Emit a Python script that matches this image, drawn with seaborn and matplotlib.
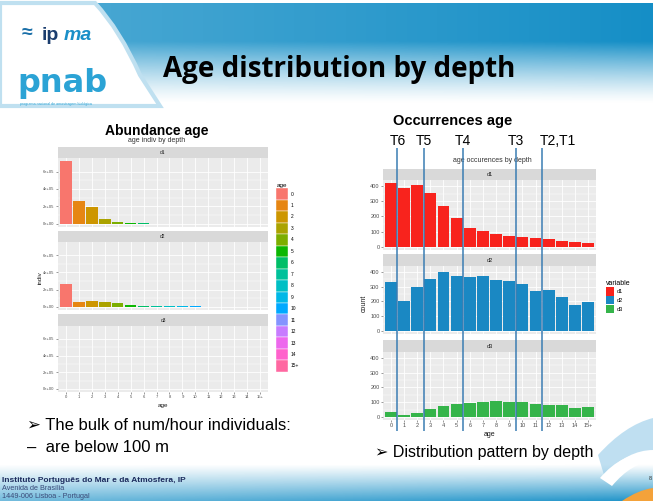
import numpy as np
import pandas as pd
import matplotlib
matplotlib.use("Agg")
import matplotlib.pyplot as plt
import seaborn as sns
from matplotlib.patches import Patch, PathPatch
from matplotlib.path import Path

# ---- data ----
ages = ["0", "1", "2", "3", "4", "5", "6", "7", "8", "9", "10", "11", "12", "13", "14", "15+"]
depths = ["d1", "d2", "d3"]

# abundance (num/hour individuals) per age and depth stratum
indiv_d1 = [7.2e5, 2.6e5, 1.95e5, 0.55e5, 0.2e5, 0.08e5, 0.07e5, 0.02e5, 0.02e5, 0.02e5, 0.02e5, 0.01e5, 0.01e5, 0.01e5, 0.01e5, 0.01e5]
indiv_d2 = [2.7e5, 0.6e5, 0.63e5, 0.57e5, 0.38e5, 0.2e5, 0.1e5, 0.1e5, 0.03e5, 0.03e5, 0.03e5, 0.02e5, 0.02e5, 0.02e5, 0.02e5, 0.02e5]
indiv_d3 = [0.01e5, 0.01e5, 0.01e5, 0.03e5, 0.03e5, 0.02e5, 0.02e5, 0.02e5, 0.02e5, 0.02e5, 0.02e5, 0.01e5, 0.01e5, 0.01e5, 0.01e5, 0.01e5]

# occurrences per age and depth stratum
count_d1 = [418, 387, 409, 353, 269, 187, 122, 107, 84, 73, 67, 58, 51, 40, 33, 27]
count_d2 = [333, 205, 297, 351, 400, 369, 366, 373, 344, 335, 315, 272, 274, 231, 173, 193]
count_d3 = [36, 14, 29, 54, 74, 86, 95, 102, 108, 102, 102, 88, 81, 79, 61, 68]

# threshold lines drawn across the occurrence chart (between age classes)
t_labels = ["T6", "T5", "T4", "T3", "T2,T1"]
t_pos = [0.5, 2.5, 5.5, 9.5, 11.5]

depth_colors = {"d1": "#F8231D", "d2": "#1A88C3", "d3": "#35B44A"}

abund = pd.DataFrame({"age": ages * 3, "depth": np.repeat(depths, 16),
                      "indiv": indiv_d1 + indiv_d2 + indiv_d3})
occ = pd.DataFrame({"age": ages * 3, "depth": np.repeat(depths, 16),
                    "count": count_d1 + count_d2 + count_d3})


def hcl(h, c=100, l=65):
    # ggplot2 default hue palette (polar Luv -> sRGB)
    h = np.deg2rad(h)
    u, v = c * np.cos(h), c * np.sin(h)
    Xn, Yn, Zn = 0.95047, 1.0, 1.08883
    un = 4 * Xn / (Xn + 15 * Yn + 3 * Zn)
    vn = 9 * Yn / (Xn + 15 * Yn + 3 * Zn)
    Y = Yn * ((l + 16) / 116) ** 3
    up, vp = u / (13 * l) + un, v / (13 * l) + vn
    X = 9 * Y * up / (4 * vp)
    Z = -X / 3 - 5 * Y + 3 * Y / vp
    rgb = np.array([[3.2406, -1.5372, -0.4986], [-0.9689, 1.8758, 0.0415],
                    [0.0557, -0.2040, 1.0570]]) @ np.array([X, Y, Z])
    rgb = np.where(rgb > 0.0031308, 1.055 * np.abs(rgb) ** (1 / 2.4) - 0.055, 12.92 * rgb)
    return tuple(np.clip(rgb, 0, 1))


age_pal = [hcl(h) for h in np.linspace(15, 375, 17)[:-1]]

plt.rcParams["font.family"] = ["Liberation Sans", "DejaVu Sans"]

W, H = 653, 501
fig = plt.figure(figsize=(W / 100, H / 100), dpi=100)


def box(x0, y0, x1, y1):
    return [x0 / W, 1 - y1 / H, (x1 - x0) / W, (y1 - y0) / H]


# ---- slide background ----
bg = fig.add_axes([0, 0, 1, 1], zorder=-10)
bg.set_xlim(0, W)
bg.set_ylim(H, 0)
bg.axis("off")

blue = np.array([0.08, 0.56, 0.78])
yy = np.linspace(0, 1, 100)[:, None]
xx = np.linspace(0, 1, 200)[None, :]
alpha = np.clip((1 - yy) / 0.62, 0, 1) ** 1.3 * (0.75 + 0.25 * xx)
head = np.zeros((100, 200, 4))
head[..., :3] = blue
head[..., 3] = alpha
bg.imshow(head, extent=[0, W, 104, 3], aspect="auto", zorder=0)

foot = np.zeros((60, 200, 4))
fy = np.linspace(0, 1, 60)[:, None]
foot[..., :3] = blue
foot[..., 3] = np.clip(fy, 0, 1) ** 1.1 * (0.6 + 0.35 * xx)
bg.imshow(foot, extent=[0, W, H, 464], aspect="auto", zorder=0)

# white wave behind the logos
wave = Path([(0, 3), (95, 3), (120, 30), (140, 75), (160, 106), (0, 106), (0, 3)],
            [Path.MOVETO, Path.LINETO, Path.CURVE3, Path.CURVE3, Path.LINETO, Path.LINETO, Path.CLOSEPOLY])
bg.add_patch(PathPatch(wave, facecolor="white", edgecolor="#bfe0f0", lw=3, zorder=1))

# bottom right swooshes
sw2 = Path([(598, 455), (625, 425), (653, 418), (653, 450), (628, 450), (604, 475), (598, 455)],
           [Path.MOVETO, Path.CURVE3, Path.CURVE3, Path.LINETO, Path.CURVE3, Path.CURVE3, Path.CLOSEPOLY])
bg.add_patch(PathPatch(sw2, facecolor="#8cc6e6", edgecolor="none", alpha=0.55, zorder=1))
sw = Path([(600, 478), (622, 452), (653, 452), (653, 462), (632, 462), (612, 486), (600, 478)],
          [Path.MOVETO, Path.CURVE3, Path.CURVE3, Path.LINETO, Path.CURVE3, Path.CURVE3, Path.CLOSEPOLY])
bg.add_patch(PathPatch(sw, facecolor="white", edgecolor="none", zorder=1))
orange = Path([(622, 501), (638, 490), (653, 488), (653, 501), (622, 501)],
              [Path.MOVETO, Path.CURVE3, Path.CURVE3, Path.LINETO, Path.CLOSEPOLY])
bg.add_patch(PathPatch(orange, facecolor="#f4a23a", edgecolor="none", zorder=1))

# logos
bg.text(22, 33, "\u2248", fontsize=14, color="#1a6fa8", weight="bold", ha="left", va="center", zorder=2)
bg.text(42, 35, "ip", fontsize=14, color="#1b3d6e", weight="bold", ha="left", va="center", zorder=2)
bg.text(64, 35, "ma", fontsize=14, color="#1a8fc8", style="italic", weight="bold", ha="left", va="center", zorder=2)
bg.text(17, 92, "pnab", fontsize=23, color="#2ba3d5", weight="bold", ha="left", va="baseline",
        family="DejaVu Sans", zorder=2)
bg.text(20, 104, "programa nacional de amostragem biológica", fontsize=2.6, color="#2ba3d5",
        ha="left", va="center", zorder=2)

bg.text(163, 69, "Age distribution by depth", fontsize=20, weight="bold", family="Open Sans",
        color="black", ha="left", va="center", zorder=2)

bg.text(157, 131, "Abundance age", fontsize=10, weight="bold", ha="center", va="center")
bg.text(157, 141, "age indiv by depth", fontsize=5, color="#333333", ha="center", va="center")
bg.text(453, 121, "Occurrences age", fontsize=10.5, weight="bold", ha="center", va="center")
bg.text(492, 161, "age occurences by depth", fontsize=5, color="#333333", ha="center", va="center")

bg.text(27, 426, "\u27a2 The bulk of num/hour individuals:", fontsize=12, ha="left", va="center",
        family=["Liberation Sans", "DejaVu Sans"])
bg.text(27, 447, "\u2013  are below 100 m", fontsize=12, ha="left", va="center")
bg.text(375, 452, "\u27a2 Distribution pattern by depth", fontsize=11.5, ha="left", va="center",
        family=["Liberation Sans", "DejaVu Sans"])

bg.text(2, 481, "Instituto Português do Mar e da Atmosfera, IP", fontsize=6, weight="bold",
        color="#1b2a5c", ha="left", va="center")
bg.text(2, 489, "Avenida de Brasília", fontsize=5.2, color="#3a4a78", ha="left", va="center")
bg.text(2, 496, "1449-006 Lisboa - Portugal", fontsize=5.2, color="#3a4a78", ha="left", va="center")
bg.text(650, 478, "8", fontsize=4, color="#333333", ha="center", va="center")


def gg_panel(ax, ymax, step, fmt, fsize):
    ax.set_facecolor("#EBEBEB")
    ax.set_yticks(np.arange(0, ymax + 1, step))
    ax.set_yticks(np.arange(step / 2, ymax + 1, step), minor=True)
    ax.grid(True, which="major", color="white", lw=0.6)
    ax.grid(True, which="minor", axis="y", color="white", lw=0.3)
    ax.set_axisbelow(True)
    for s in ax.spines.values():
        s.set_visible(False)
    ax.yaxis.set_major_formatter(matplotlib.ticker.FuncFormatter(fmt))
    ax.tick_params(axis="both", which="major", labelsize=fsize, colors="#4D4D4D",
                   length=1.5, width=0.4, pad=1)
    ax.tick_params(which="minor", length=0)
    ax.set_xlabel("")
    ax.set_ylabel("")
    ax.set_xlim(-0.6, 15.6)


def strip(rect, label, fsize):
    s = fig.add_axes(box(*rect))
    s.set_facecolor("#D9D9D9")
    s.set_xticks([])
    s.set_yticks([])
    for sp in s.spines.values():
        sp.set_visible(False)
    s.text(0.5, 0.5, label, fontsize=fsize, color="#1A1A1A", ha="center", va="center",
           transform=s.transAxes)


def sci(v, p):
    if v == 0:
        return "0e+00"
    e = int(np.floor(np.log10(abs(v))))
    return f"{v / 10 ** e:.0f}e+{e:02d}"


# ---- left chart: abundance by age, faceted by depth ----
left_rows = [(147, 158, 227), (231, 242, 310), (314, 326, 392)]
for i, d in enumerate(depths):
    top, mid, bot = left_rows[i]
    strip((58, top, 268, mid), d, 3.5)
    ax = fig.add_axes(box(58, mid, 268, bot))
    sub = abund[abund["depth"] == d]
    sns.barplot(data=sub, x="age", y="indiv", hue="age", order=ages, hue_order=ages,
                palette=age_pal, saturation=1, width=0.9, legend=False, ax=ax)
    gg_panel(ax, 6e5, 2e5, sci, 3)
    ax.set_ylim(-0.38e5, 7.56e5)
    if i < 2:
        ax.set_xticklabels([])
        ax.tick_params(axis="x", length=0)
ax.set_xlabel("age", fontsize=4.5, color="#1A1A1A", labelpad=2.5)
fig.text(40 / W, 1 - 278 / H, "indiv", fontsize=4.5, rotation=90, ha="center", va="center",
         color="#1A1A1A")
handles = [Patch(facecolor=c, edgecolor="white", lw=0.3) for c in age_pal]
fig.legend(handles, ages, loc="upper left", bbox_to_anchor=(274 / W, 1 - 181 / H), title="age",
           fontsize=3.5, title_fontsize=4.5, frameon=False, handlelength=2.4, handleheight=3.25,
           labelspacing=0, handletextpad=0.5, alignment="left", borderpad=0)

# ---- right chart: occurrences by age, faceted by depth ----
right_rows = [(169, 180, 250), (254, 266, 334), (340, 352, 420)]
for i, d in enumerate(depths):
    top, mid, bot = right_rows[i]
    strip((383, top, 596, mid), d, 4)
    ax = fig.add_axes(box(383, mid, 596, bot))
    sub = occ[occ["depth"] == d]
    sns.barplot(data=sub, x="age", y="count", order=ages, color=depth_colors[d],
                saturation=1, width=0.9, ax=ax)
    gg_panel(ax, 400, 100, lambda v, p: f"{v:.0f}", 4)
    ax.set_ylim(-21, 440)
    if i < 2:
        ax.set_xticklabels([])
        ax.tick_params(axis="x", length=0)
ax.set_xlabel("age", fontsize=5, color="#1A1A1A", labelpad=1.5)
fig.text(364 / W, 1 - 303 / H, "count", fontsize=5, rotation=90, ha="center", va="center",
         color="#1A1A1A")
handles = [Patch(facecolor=depth_colors[d]) for d in depths]
fig.legend(handles, depths, loc="upper left", bbox_to_anchor=(603 / W, 1 - 277 / H), title="variable",
           fontsize=4, title_fontsize=5, frameon=False, handlelength=1.5, handleheight=1.9,
           labelspacing=0.1, handletextpad=0.4, alignment="left", borderpad=0)

# threshold lines overlay sharing the right chart's x scale
ov = fig.add_axes(box(383, 148, 596, 431), zorder=5)
ov.set_xlim(-0.6, 15.6)
ov.set_ylim(0, 1)
ov.axis("off")
for x in t_pos:
    ov.axvline(x, color="#3B7DB3", lw=1.1)
for x, lab in zip(t_pos, t_labels):
    ha = "left" if "," in lab else "center"
    ov.text(x - (0.15 if "," in lab else 0), 1.0, lab, fontsize=10, ha=ha, va="bottom")

fig.savefig("out.png", dpi=100)
